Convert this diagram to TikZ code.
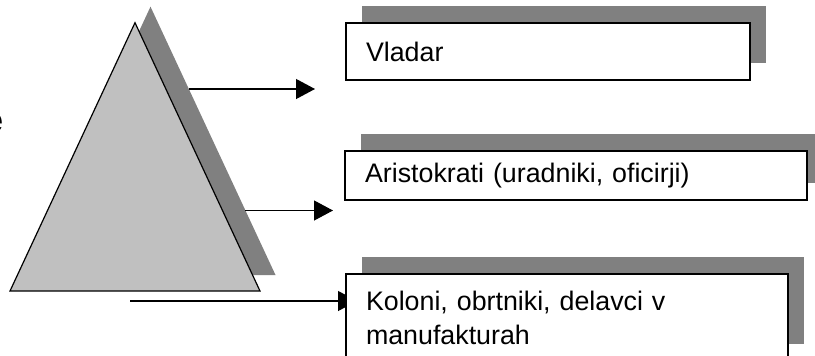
\documentclass[tikz,border=0pt]{standalone}
\usepackage{fontspec}
\setmainfont{Liberation Sans}
\usetikzlibrary{shadows,arrows.meta}
\definecolor{tri}{HTML}{C0C0C0}
\definecolor{shade}{HTML}{808080}
\tikzset{box/.style = {draw, line width=1.2pt, fill=white, anchor=north west, outer sep=0pt,
  align=left, inner xsep=20pt, inner ysep=0pt,
  drop shadow={shadow xshift=16pt, shadow yshift=17pt, opacity=1, fill=shade}}}
\tikzset{edge/.style = {-{Triangle[length=19pt,width=20pt]}, line width=1.2pt}}

\begin{document}
\begin{tikzpicture}[x=1pt, y=-1pt, font=\fontsize{26.8}{34}\selectfont]
  \useasboundingbox (0,0) rectangle (815,356);

  \node[font=\fontsize{36}{40}\bfseries\selectfont, anchor=base east, inner sep=0pt] (cut) at (4,132) {e};

  \path[fill=tri, draw, line width=1.2pt,
    drop shadow={shadow xshift=15.5pt, shadow yshift=16pt, opacity=1, fill=shade}]
    (135,22.7) -- (260,291) -- (10,291) -- cycle;

  \coordinate (s1) at (189,89);
  \coordinate (t1) at (315,89);
  \coordinate (s2) at (245,210.5);
  \coordinate (t2) at (333,210.5);
  \coordinate (s3) at (130,301);
  \coordinate (t3) at (357,301);

  \draw[edge] (s1) -- (t1);
  \draw[edge] (s2) -- (t2);
  \draw[edge] (s3) -- (t3);

  \node[box, text width=364pt, minimum width=404pt, minimum height=57pt] (vladar) at (346,23) {Vladar};
  \node[box, text width=422pt, minimum width=462pt, minimum height=49pt] (aristo) at (345,151) {Aristokrati (uradniki, oficirji)};
  \node[box, text width=402pt, minimum width=442pt, minimum height=87pt] (koloni) at (346,274) {Koloni, obrtniki, delavci v\\manufakturah};
\end{tikzpicture}
\end{document}
